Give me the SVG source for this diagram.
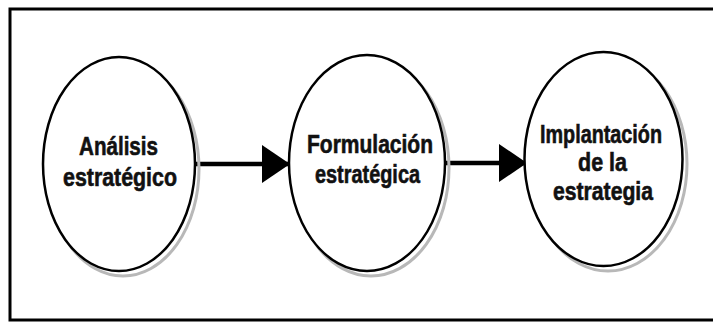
<svg xmlns="http://www.w3.org/2000/svg" width="713" height="323" viewBox="0 0 713 323">
<style>
.node ellipse.shape{fill:#fff;stroke:#000;stroke-width:2.5}
.node ellipse.shadow{fill:none;stroke:#b8b8b8;stroke-width:3}
.lbl{font-family:"Liberation Sans",Arial,sans-serif;font-weight:bold;font-size:25.5px;fill:#111;stroke:#111;stroke-width:0.6;text-anchor:middle}
.conn{stroke:#000;stroke-width:4.5;fill:none}
</style>
<defs>
<marker id="ah" viewBox="0 0 28 38" refX="27" refY="19" markerWidth="28" markerHeight="38" markerUnits="userSpaceOnUse" orient="auto">
<path d="M0,0 L28,19 L0,38 Z" fill="#000"/>
</marker>
</defs>
<rect x="0" y="0" width="713" height="323" fill="#fff"/>
<rect id="frame" x="10" y="9" width="710" height="311" fill="none" stroke="#000" stroke-width="3"/>
<g id="connectors">
<line class="conn" x1="196" y1="164" x2="289" y2="164" marker-end="url(#ah)"/>
<line class="conn" x1="445" y1="163" x2="526" y2="163" marker-end="url(#ah)"/>
</g>
<g id="n1" class="node">
<ellipse class="shadow" cx="123" cy="169" rx="76" ry="107"/>
<ellipse class="shape" cx="119" cy="164" rx="76" ry="107"/>
<text class="lbl" x="118.5" y="155" textLength="79" lengthAdjust="spacingAndGlyphs">Análisis</text>
<text class="lbl" x="120" y="186" textLength="114" lengthAdjust="spacingAndGlyphs">estratégico</text>
</g>
<g id="n2" class="node">
<ellipse class="shadow" cx="371" cy="168" rx="78" ry="108"/>
<ellipse class="shape" cx="367" cy="163" rx="78" ry="108"/>
<text class="lbl" x="370" y="153" textLength="126" lengthAdjust="spacingAndGlyphs">Formulación</text>
<text class="lbl" x="367.5" y="183" textLength="105" lengthAdjust="spacingAndGlyphs">estratégica</text>
</g>
<g id="n3" class="node">
<ellipse class="shadow" cx="608" cy="164" rx="79" ry="107"/>
<ellipse class="shape" cx="603.5" cy="159" rx="79" ry="107"/>
<text class="lbl" x="601" y="143" textLength="122" lengthAdjust="spacingAndGlyphs">Implantación</text>
<text class="lbl" x="602.5" y="171" textLength="49" lengthAdjust="spacingAndGlyphs">de la</text>
<text class="lbl" x="603" y="200" textLength="100" lengthAdjust="spacingAndGlyphs">estrategia</text>
</g>
</svg>
